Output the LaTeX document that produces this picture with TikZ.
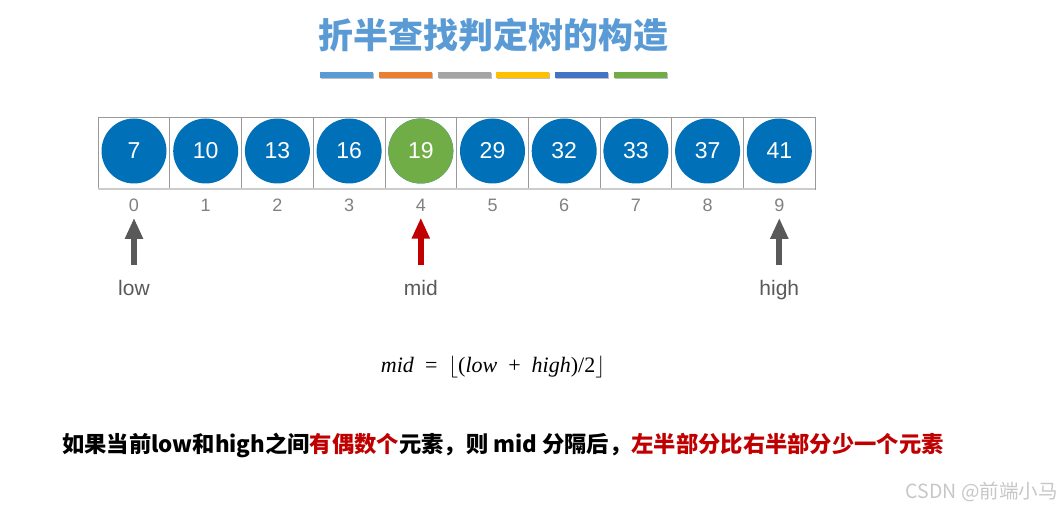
\documentclass[tikz,border=0pt]{standalone}
\usepackage{fix-cm}
\usepackage{fontspec}
\setmainfont{Liberation Sans}
\newfontfamily\cjk{Noto Sans CJK SC}
\newfontfamily\serif{Liberation Serif}
\usetikzlibrary{arrows.meta}

\definecolor{titleblue}{HTML}{5B9BD5}
\definecolor{ballblue}{HTML}{0070B8}
\definecolor{ballgreen}{HTML}{70AD47}
\definecolor{ptrgray}{HTML}{595959}
\definecolor{ptrred}{HTML}{C00000}
\definecolor{bar1}{HTML}{5B9BD5}
\definecolor{bar2}{HTML}{ED7D31}
\definecolor{bar3}{HTML}{A5A5A5}
\definecolor{bar4}{HTML}{FFC000}
\definecolor{bar5}{HTML}{4472C4}
\definecolor{bar6}{HTML}{70AD47}

\tikzset{
    ball/.style={circle, minimum size=65pt, inner sep=0pt, text=white,
        font=\fontsize{23}{26}\selectfont},
    idx/.style={text=gray, font=\fontsize{18}{20}\selectfont},
    ptr/.style={line width=6pt, -{Triangle[width=17pt,length=21pt]}},
    ptrlabel/.style={anchor=base, text=ptrgray, font=\fontsize{21}{24}\selectfont}
}

\begin{document}
\begin{tikzpicture}[x=1pt, y=-1pt]
    \useasboundingbox (0,0) rectangle (1064,510);

    % title and colour bars
    \node[text=titleblue, font=\cjk\bfseries\fontsize{35}{38}\selectfont] (title) at (493,35) {折半查找判定树的构造};
    \foreach \c [count=\i from 0] in {bar1,bar2,bar3,bar4,bar5,bar6} {
            \fill[black!25] (320+\i*58.8+1,72+1.5) rectangle ++(53,6);
            \fill[\c] (320+\i*58.8,72) rectangle ++(53,6);
        }

    % array cells
    \foreach \i in {0,...,9} {
            \draw[gray!80, line width=0.6pt] (98+\i*71.7,117) rectangle ++(71.7,72);
        }
    \draw[black!20, line width=2pt] (98,189) -- (815,189);

    % values and indices
    \foreach \v [count=\i from 0] in {7,10,13,16,19,29,32,33,37,41} {
            \node[ball, fill=ballblue] (b\i) at (134+\i*71.7,151) {\v};
            \node[idx] (i\i) at (134+\i*71.7,205) {\i};
        }
    \node[ball, fill=ballgreen] at (b4) {19};

    % pointers
    \node[ptrlabel] (low) at (i0 |- 0,295) {low};
    \node[ptrlabel] (mid) at (i4 |- 0,295) {mid};
    \node[ptrlabel] (high) at (i9 |- 0,295) {high};
    \coordinate (lowtail) at (i0 |- 0,265);
    \coordinate (midtail) at (i4 |- 0,265);
    \coordinate (hightail) at (i9 |- 0,265);
    \draw[ptr, ptrgray] (lowtail) -- ([yshift=-3pt]i0.south);
    \draw[ptr, ptrred] (midtail) -- ([yshift=-3pt]i4.south);
    \draw[ptr, ptrgray] (hightail) -- ([yshift=-3pt]i9.south);

    % formula
    \node[font=\serif\fontsize{22}{26}\selectfont] (formula) at (493,367)
    {\textit{mid}\enspace=\enspace$\lfloor$(\textit{low}\enspace+\enspace\textit{high})/2$\rfloor$};

    % remark
    \node[anchor=west, inner sep=0pt, font=\cjk\bfseries\fontsize{22.3}{26}\selectfont] (remark) at (62,445)
    {如果当前low和high之间\textcolor{ptrred}{有偶数个}元素，则 mid 分隔后，\textcolor{ptrred}{左半部分比右半部分少一个元素}};

    \node[anchor=east, inner sep=0pt, text=black!22, font=\cjk\fontsize{19.5}{22}\selectfont] (mark) at (1058,492) {CSDN @前端小马};
\end{tikzpicture}
\end{document}
